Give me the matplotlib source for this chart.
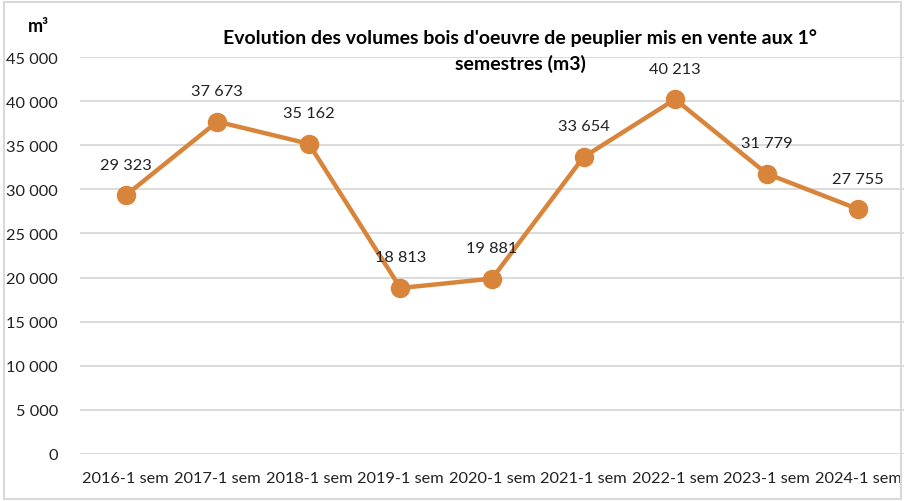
import numpy as np
import matplotlib.pyplot as plt
from matplotlib.patches import Rectangle

# données
categories = ['2016-1 sem', '2017-1 sem', '2018-1 sem', '2019-1 sem', '2020-1 sem',
              '2021-1 sem', '2022-1 sem', '2023-1 sem', '2024-1 sem']
volumes = [29323, 37673, 35162, 18813, 19881, 33654, 40213, 31779, 27755]
yticks = [0, 5000, 10000, 15000, 20000, 25000, 30000, 35000, 40000, 45000]

plt.rcParams['font.family'] = ['Lato', 'DejaVu Sans']

fig = plt.figure(figsize=(9.05, 5.02), dpi=100)
ax = fig.add_axes([80 / 905, 1 - 455 / 502, 824 / 905, 397 / 502])

color = '#D9843B'
x = np.arange(len(categories))
ax.plot(x, volumes, color=color, lw=3.2, marker='o', ms=13, zorder=3)

def fmt(v):
    return '{:,}'.format(v).replace(',', ' ')

for xi, v in zip(x, volumes):
    ax.annotate(fmt(v), (xi, v), xytext=(0, 17), textcoords='offset points',
                ha='center', va='bottom', fontsize=11.8, color='#222222')

ax.set_xlim(-0.5, len(categories) - 0.5)
ax.set_ylim(0, 45000)
ax.set_yticks(yticks)
ax.set_yticklabels([fmt(t) for t in yticks])
ax.set_xticks(x)
ax.set_xticklabels(categories)
ax.tick_params(axis='both', length=0, labelsize=11.8, colors='#222222')
ax.tick_params(axis='y', pad=16)
ax.tick_params(axis='x', pad=12)
ax.grid(axis='y', color='#D9D9D9', lw=1.3)
ax.set_axisbelow(True)
for s in ax.spines.values():
    s.set_visible(False)

fig.text(520 / 905, 1 - 38 / 502, "Evolution des volumes bois d'oeuvre de peuplier mis en vente aux 1°",
         ha='center', va='center', fontsize=14, fontweight='bold')
fig.text(520 / 905, 1 - 64 / 502, "semestres (m3)",
         ha='center', va='center', fontsize=14, fontweight='bold')
fig.text(38 / 905, 1 - 26 / 502, "m³", ha='center', va='center', fontsize=13, fontweight='bold')

fig.patches.append(Rectangle((0.004, 0.004), 0.992, 0.99, transform=fig.transFigure,
                             fill=False, edgecolor='#D9D9D9', lw=1.5))

plt.savefig('out.png', dpi=100)
